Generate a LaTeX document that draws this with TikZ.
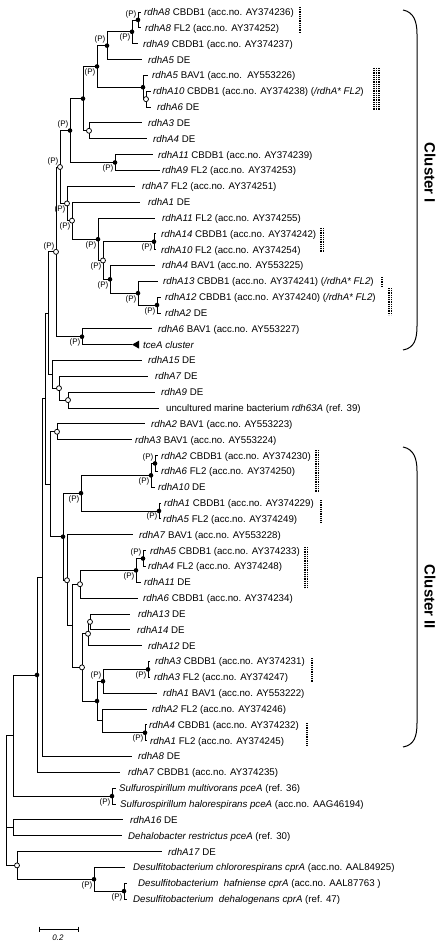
\documentclass[tikz,border=0pt]{standalone}
\usepackage{fontspec}
\setmainfont{Liberation Sans}
\usetikzlibrary{calc}
\newcommand\fs{\fontsize{9.7}{11}\selectfont}
\newcommand\ps{\fontsize{8}{9}\selectfont}
\newcommand\ry[1]{(12+(#1-1)*15.84)}
\newcommand\leaf[4]{\coordinate (t#1) at (#2,{\ry{#1}}); \node[lab] (n#1) at (#3,{\ry{#1}+3.5}) {#4};}
\newcommand\inode[4]{\path let \p1=($(#3)!.5!(#4)$) in coordinate (#1) at (#2pt,\y1); \draw[br] (#1) |- (#3); \draw[br] (#1) |- (#4);}
\newcommand\fd[1]{\fill (#1) circle (2.3pt);}
\newcommand\od[1]{\filldraw[fill=white,line width=0.75pt] (#1) circle (2.5pt);}
\newcommand\Pab[1]{\node[pl,anchor=south east] (P#1) at ($(#1)+(-1.5,-2)$) {(P)};}
\newcommand\Pbe[1]{\node[pl,anchor=north east] (P#1) at ($(#1)+(-1.5,2)$) {(P)};}
\newcommand\dbar[4]{\foreach \i in {1,...,#4} \draw[dotb] ({#1+(\i-1)*1.7},#2) -- ({#1+(\i-1)*1.7},#3);}
\begin{document}
\begin{tikzpicture}[x=1pt,y=-1pt,
  lab/.style={anchor=base west,inner sep=0pt,font=\fs},
  pl/.style={inner sep=0pt,font=\ps},
  br/.style={line width=0.8pt},
  dotb/.style={line width=0.9pt,dash pattern=on 0.9pt off 0.9pt},
  brk/.style={line width=1pt},
  cl/.style={font=\fontsize{15}{16}\selectfont\bfseries,inner sep=0pt}]
\useasboundingbox (0,0) rectangle (442,941);
\leaf{1}{141}{144}{\textit{rdhA8} CBDB1 (acc.no. AY374236)}
\leaf{2}{141}{145}{\textit{rdhA8} FL2 (acc.no. AY374252)}
\leaf{3}{138}{143}{\textit{rdhA9} CBDB1 (acc.no. AY374237)}
\leaf{4}{142}{148}{\textit{rdhA5} DE}
\leaf{5}{148}{152}{\textit{rdhA5} BAV1 (acc.no.\ \ AY553226)}
\leaf{6}{151}{153}{\textit{rdhA10} CBDB1 (acc.no. AY374238) (\textit{/rdhA* FL2})}
\leaf{7}{151}{157}{\textit{rdhA6} DE}
\leaf{8}{142}{148}{\textit{rdhA3} DE}
\leaf{9}{147}{153}{\textit{rdhA4} DE}
\leaf{10}{153}{158}{\textit{rdhA11} CBDB1 (acc.no. AY374239)}
\leaf{11}{160}{162}{\textit{rdhA9} FL2 (acc.no. AY374253)}
\leaf{12}{135}{142}{\textit{rdhA7} FL2 (acc.no. AY374251)}
\leaf{13}{140}{148}{\textit{rdhA1} DE}
\leaf{14}{155}{162}{\textit{rdhA11} FL2 (acc.no. AY374255)}
\leaf{15}{156}{161}{\textit{rdhA14} CBDB1 (acc.no. AY374242)}
\leaf{16}{156}{161}{\textit{rdhA10} FL2 (acc.no. AY374254)}
\leaf{17}{155}{162}{\textit{rdhA4} BAV1 (acc.no. AY553225)}
\leaf{18}{158}{163}{\textit{rdhA13} CBDB1 (acc.no. AY374241) (\textit{/rdhA* FL2})}
\leaf{19}{161}{165}{\textit{rdhA12} CBDB1 (acc.no. AY374240) (\textit{/rdhA* FL2})}
\leaf{20}{161}{165}{\textit{rdhA2} DE}
\leaf{21}{152}{158}{\textit{rdhA6} BAV1 (acc.no. AY553227)}
\leaf{22}{132}{143}{\textit{tceA cluster}}
\leaf{23}{142}{148}{\textit{rdhA15} DE}
\leaf{24}{148}{155}{\textit{rdhA7} DE}
\leaf{25}{155}{161}{\textit{rdhA9} DE}
\leaf{26}{159}{166}{uncultured marine bacterium \textit{rdh63A} (ref. 39)}
\leaf{27}{145}{151}{\textit{rdhA2} BAV1 (acc.no. AY553223)}
\leaf{28}{132}{135}{\textit{rdhA3} BAV1 (acc.no. AY553224)}
\leaf{29}{158}{161}{\textit{rdhA2} CBDB1 (acc.no. AY374230)}
\leaf{30}{158}{161}{\textit{rdhA6} FL2 (acc.no. AY374250)}
\leaf{31}{155}{158}{\textit{rdhA10} DE}
\leaf{32}{161}{164}{\textit{rdhA1} CBDB1 (acc.no. AY374229)}
\leaf{33}{161}{163}{\textit{rdhA5} FL2 (acc.no. AY374249)}
\leaf{34}{133}{139}{\textit{rdhA7} BAV1 (acc.no. AY553228)}
\leaf{35}{146}{150}{\textit{rdhA5} CBDB1 (acc.no. AY374233)}
\leaf{36}{146}{148}{\textit{rdhA4} FL2 (acc.no. AY374248)}
\leaf{37}{141}{144}{\textit{rdhA11} DE}
\leaf{38}{138}{143}{\textit{rdhA6} CBDB1 (acc.no. AY374234)}
\leaf{39}{130}{138}{\textit{rdhA13} DE}
\leaf{40}{130}{137}{\textit{rdhA14} DE}
\leaf{41}{142}{148}{\textit{rdhA12} DE}
\leaf{42}{150}{155}{\textit{rdhA3} CBDB1 (acc.no. AY374231)}
\leaf{43}{150}{154}{\textit{rdhA3} FL2 (acc.no. AY374247)}
\leaf{44}{157}{163}{\textit{rdhA1} BAV1 (acc.no. AY553222)}
\leaf{45}{147}{152}{\textit{rdhA2} FL2 (acc.no. AY374246)}
\leaf{46}{147}{149}{\textit{rdhA4} CBDB1 (acc.no. AY374232)}
\leaf{47}{147}{150}{\textit{rdhA1} FL2 (acc.no. AY374245)}
\leaf{48}{132}{138}{\textit{rdhA8} DE}
\leaf{49}{120}{128}{\textit{rdhA7} CBDB1 (acc.no. AY374235)}
\leaf{50}{116}{119}{\textit{Sulfurospirillum multivorans pceA} (ref. 36)}
\leaf{51}{116}{120}{\textit{Sulfurospirillum halorespirans pceA} (acc.no. AAG46194)}
\leaf{52}{123}{130}{\textit{rdhA16} DE}
\leaf{53}{122}{128}{\textit{Dehalobacter restrictus pceA} (ref. 30)}
\leaf{54}{162}{168}{\textit{rdhA17} DE}
\leaf{55}{125}{133}{\textit{Desulfitobacterium chlororespirans cprA} (acc.no. AAL84925)}
\leaf{56}{127}{138}{\textit{Desulfitobacterium\ \ hafniense cprA} (acc.no. AAL87763 )}
\leaf{57}{127}{133}{\textit{Desulfitobacterium\ \ dehalogenans cprA} (ref. 47)}
% internal nodes
\inode{a1}{138}{t1}{t2}
\inode{a2}{132}{a1}{t3}
\inode{a3}{107}{a2}{t4}
\inode{a5}{146}{t6}{t7}
\inode{a4}{143}{t5}{a5}
\inode{a6}{97}{a3}{a4}
\inode{a7}{89}{t8}{t9}
\inode{a8}{83}{a6}{a7}
\inode{a9}{115}{t10}{t11}
\inode{a10}{70}{a8}{a9}
\inode{b1}{154}{t15}{t16}
\inode{b2}{157}{t19}{t20}
\inode{b3}{138}{t18}{b2}
\inode{b4}{110}{t17}{b3}
\inode{b5}{103}{b1}{b4}
\inode{b6}{98}{t14}{b5}
\inode{b7}{72}{t13}{b6}
\inode{b8}{67}{t12}{b7}
\inode{a11}{60}{a10}{b8}
\inode{c1}{82}{t21}{t22}
\inode{a12}{56}{a11}{c1}
\inode{d1}{68}{t25}{t26}
\inode{d2}{59}{t24}{d1}
\inode{d3}{52}{t23}{d2}
\inode{P1}{48}{a12}{d3}
\inode{e1}{57}{t27}{t28}
\inode{f1}{155}{t29}{t30}
\inode{f2}{151}{f1}{t31}
\inode{f3}{159}{t32}{t33}
\inode{f4}{81}{f2}{f3}
\inode{g1}{143}{t35}{t36}
\inode{g2}{136}{g1}{t37}
\inode{g3}{80}{g2}{t38}
\inode{h1}{90}{t39}{t40}
\inode{h2}{88}{h1}{t41}
\inode{h3}{148}{t42}{t43}
\inode{h4}{103}{h3}{t44}
\inode{h5}{145}{t46}{t47}
\inode{h6}{102}{t45}{h5}
\inode{h7}{97}{h4}{h6}
\inode{h8}{82}{h2}{h7}
\inode{g4}{72}{g3}{h8}
\inode{g5}{67}{t34}{g4}
\inode{f5}{63}{f4}{g5}
\inode{P2}{50}{e1}{f5}
\inode{T}{45}{P1}{P2}
\inode{A}{42}{T}{t48}
\inode{B}{37}{A}{t49}
\inode{s1}{112}{t50}{t51}
\inode{D}{13}{B}{s1}
\inode{k1}{13}{t52}{t53}
\inode{m1}{124}{t56}{t57}
\inode{m2}{94}{t55}{m1}
\inode{m3}{17}{t54}{m2}
\inode{R}{6}{D}{m3}
\draw[br] (R) |- (k1);
% tceA triangle
\fill (t22) -- ++(7,-4) -- ++(0,8) -- cycle;
% dots
\foreach \n in {a1,a2,a3,a4,a6,a8,a9,a10,b1,b2,b3,b4,b6,c1,f1,f2,f3,f4,f5,g1,g2,h3,h4,h5,h7,B,s1,m1,m2} {\fd{\n}}
\foreach \n in {a5,a7,a11,a12,b5,b7,b8,d1,d2,e1,g3,g5,h1,h2,h8,m3} {\od{\n}}
% (P) labels
\foreach \n in {a1,a3,a10,a11,a12,f1,g1,h4} {\Pab{\n}}
\foreach \n in {a2,a6,a9,b1,b2,b3,b4,b5,b6,b7,b8,c1,f2,f3,f4,g2,h3,h5,s1,m1,m2} {\Pbe{\n}}
% dotted bars
\dbar{299}{7}{33}{2}
\dbar{373}{68}{110}{5}
\dbar{320}{228}{253}{3}
\dbar{381}{277}{287}{2}
\dbar{388}{288}{315}{3}
\dbar{315}{450}{492}{3}
\dbar{320}{500}{523}{2}
\dbar{304}{547}{587}{3}
\dbar{311}{658}{682}{2}
\dbar{306}{723}{745}{2}
% cluster brackets
\coordinate (ka) at (403,10); \coordinate (kb) at (403,350);
\draw[brk] (ka) .. controls (414,12) and (417,22) .. (417,34) -- (417,326) .. controls (417,340) and (414,348) .. (kb);
\node[cl,rotate=-90] (cI) at (430,173) {Cluster I};
\coordinate (kc) at (403,447); \coordinate (kd) at (403,747);
\draw[brk] (kc) .. controls (414,449) and (417,459) .. (417,471) -- (417,723) .. controls (417,737) and (414,745) .. (kd);
\node[cl,rotate=-90] (cII) at (430,597) {Cluster II};
% scale bar
\coordinate (sa) at (39,929); \coordinate (sb) at (78,929);
\draw[br] (sa) -- (sb);
\draw[br] ($(sa)+(0,-2.5)$) -- ($(sa)+(0,2.5)$);
\draw[br] ($(sb)+(0,-2.5)$) -- ($(sb)+(0,2.5)$);
\node[pl,font=\ps\itshape] (sl) at (58,938) {0.2};
\end{tikzpicture}
\end{document}
